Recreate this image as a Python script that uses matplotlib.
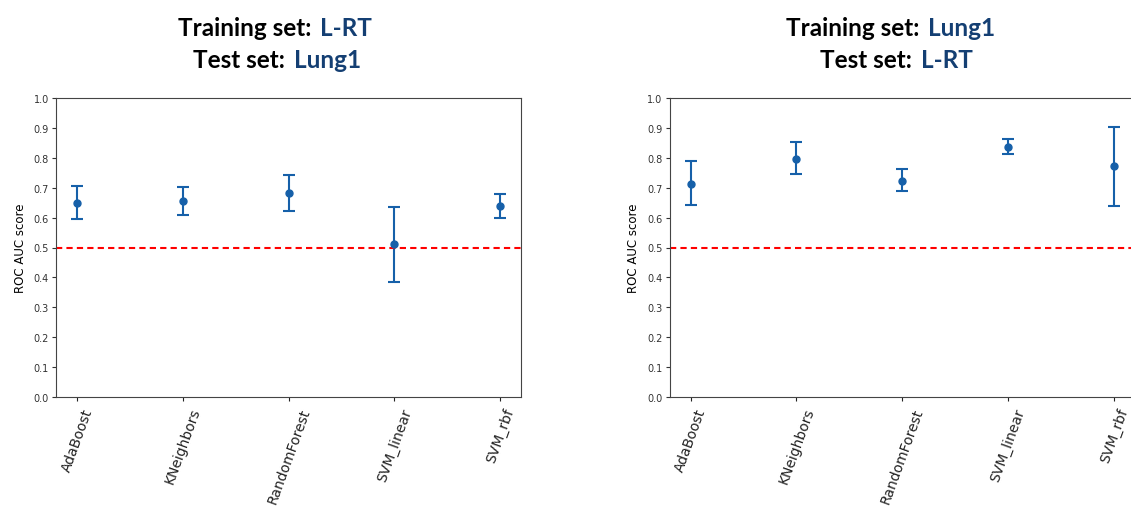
import matplotlib.pyplot as plt

# %%
models = ["AdaBoost", "KNeighbors", "RandomForest", "SVM_linear", "SVM_rbf"]

# train L-RT, test Lung1
left_mean = [0.649, 0.656, 0.682, 0.512, 0.638]
left_low = [0.594, 0.609, 0.622, 0.385, 0.598]
left_high = [0.707, 0.704, 0.743, 0.637, 0.679]

# train Lung1, test L-RT
right_mean = [0.713, 0.798, 0.723, 0.837, 0.773]
right_low = [0.643, 0.746, 0.690, 0.813, 0.640]
right_high = [0.790, 0.854, 0.762, 0.864, 0.905]

yticks = [0.0, 0.1, 0.2, 0.3, 0.4, 0.5, 0.6, 0.7, 0.8, 0.9, 1.0]

# %%
W, H = 1131, 510
fig = plt.figure(figsize=(W / 100, H / 100), dpi=100)

BLUE = "#1660a9"
DARK = "#143f73"


def panel(x0, mean, low, high):
    ax = fig.add_axes([x0 / W, (H - 397.7) / H, 465.5 / W, 298.4 / H])
    yerr = [[m - l for m, l in zip(mean, low)], [h - m for m, h in zip(mean, high)]]
    ax.errorbar(models, mean, yerr=yerr, fmt="o", color=BLUE, ms=5,
                elinewidth=1.5, capsize=4, capthick=1.5)
    ax.axhline(0.5, color="red", ls="--", lw=1.5, dashes=(3, 2))
    ax.set_ylim(0, 1)
    ax.set_yticks(yticks)
    ax.set_yticklabels([f"{t:.1f}" for t in yticks])
    ax.tick_params(axis="y", labelsize=7, length=3, pad=2, colors="#333333")
    ax.tick_params(axis="x", labelsize=10, length=3, colors="#222222")
    for lab in ax.get_xticklabels():
        lab.set_rotation(70)
    ax.set_ylabel("ROC AUC score", fontsize=8.5, labelpad=5)
    for s in ax.spines.values():
        s.set_color("#444444")
    return ax


panel(55.8, left_mean, left_low, left_high)
panel(669.5, right_mean, right_low, right_high)

renderer = fig.canvas.get_renderer()


def title_line(x_black, y, black, blue):
    kw = dict(fontsize=17.5, fontweight="bold", family="Lato", va="baseline", ha="left")
    t = fig.text(x_black / W, 1 - y / H, black, color="black", **kw)
    x_end = t.get_window_extent(renderer).x1
    fig.text((x_end + 9) / W, 1 - y / H, blue, color=DARK, **kw)


title_line(178, 36, "Training set:", "L-RT")
title_line(193, 68, "Test set:", "Lung1")
title_line(786, 36, "Training set:", "Lung1")
title_line(820, 68, "Test set:", "L-RT")

plt.savefig("out.png", dpi=100)
